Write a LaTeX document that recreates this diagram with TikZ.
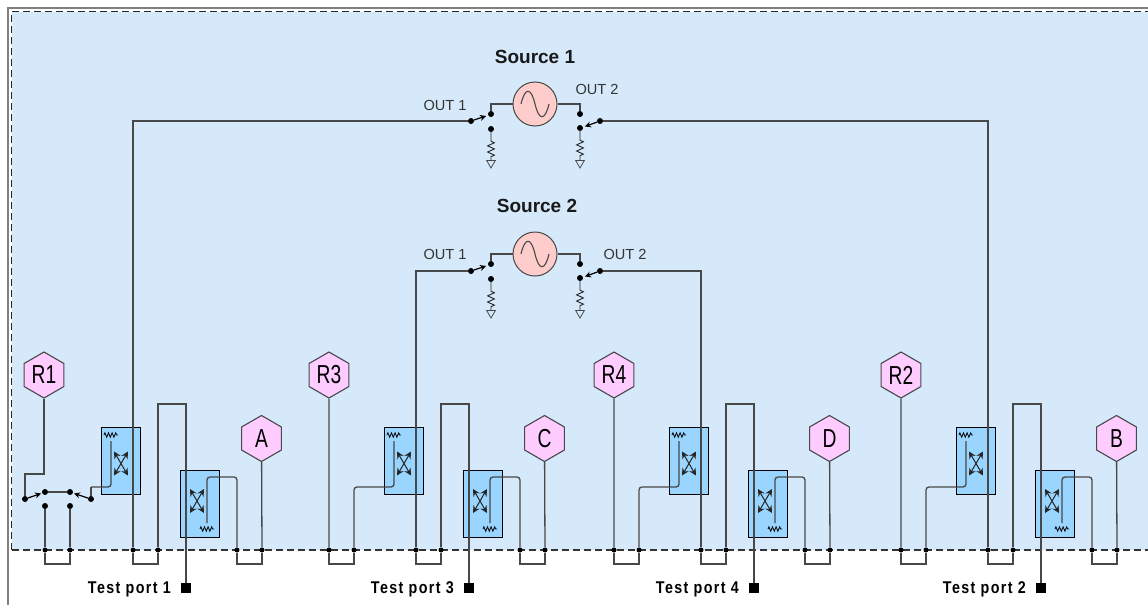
\documentclass[tikz,border=0pt]{standalone}
\usepackage{fontspec}
\usepackage{tikz}
\usetikzlibrary{arrows.meta,positioning,shapes.geometric,decorations.pathmorphing}
\setmainfont{Liberation Sans}
\newfontfamily\hexfont[FakeStretch=0.74]{Liberation Sans}
\newfontfamily\portfont[FakeStretch=0.84,LetterSpace=8]{Liberation Sans}
\definecolor{panelblue}{HTML}{D6E9FB}
\definecolor{couplerblue}{HTML}{99D5FF}
\definecolor{hexpink}{HTML}{FFCCFF}
\definecolor{srcpink}{HTML}{FFCCCC}
\definecolor{wiregray}{HTML}{484848}
\tikzstyle{hexport}=[draw=wiregray,fill=hexpink,line width=1.1pt,regular polygon,regular polygon sides=6,shape border rotate=30,minimum size=46pt,inner sep=0pt,font=\hexfont\fontsize{26}{26}\selectfont]
\tikzstyle{srcnode}=[draw=wiregray,fill=srcpink,line width=1pt,circle,minimum size=44pt,inner sep=0pt]
\tikzstyle{coupler}=[draw=black,fill=couplerblue,line width=1pt,minimum width=39pt,minimum height=67pt,inner sep=0pt]
\tikzstyle{jdot}=[circle,fill=black,minimum size=5pt,inner sep=0pt]
\tikzstyle{contact}=[circle,fill=black,minimum size=6pt,inner sep=0pt]
\tikzstyle{portsq}=[fill=black,minimum size=10.5pt,inner sep=0pt]
\tikzstyle{gnd}=[draw=wiregray,regular polygon,regular polygon sides=3,shape border rotate=180,minimum size=10pt,inner sep=0pt,line width=0.8pt]
\tikzstyle{wire}=[draw=wiregray,line width=1.3pt]
\tikzstyle{blade}=[draw=black,line width=1.2pt,-{Stealth[length=6pt,width=6pt]}]
\tikzstyle{resist}=[draw=black!85,line width=0.9pt,decorate,decoration={zigzag,amplitude=3.4pt,segment length=6.2pt,pre length=9pt,post length=2pt}]
\tikzstyle{tinyres}=[draw=black,line width=0.8pt,decorate,decoration={zigzag,amplitude=2.2pt,segment length=3.6pt}]
\tikzstyle{xarrow}=[draw=black!85,line width=1pt,{Stealth[length=7pt,width=7pt]}-{Stealth[length=7pt,width=7pt]}]
\tikzstyle{olabel}=[font=\fontsize{14.6}{15}\selectfont,text=black!80,inner sep=0pt]
\tikzstyle{srctitle}=[font=\bfseries\fontsize{19}{19}\selectfont,text=black!90,inner sep=0pt]
\tikzstyle{portlabel}=[font=\portfont\bfseries\fontsize{17}{17}\selectfont,inner sep=0pt,anchor=east]

\begin{document}
\begin{tikzpicture}[x=1pt,y=-1pt]
    \useasboundingbox (0,0) rectangle (1148,605);
    % panel and borders
    \fill[panelblue] (11,12) rectangle (1148,550);
    \draw[gray,line width=2pt] (8,605) -- (8,8) -- (1148,8);
    \draw[white,line width=1.2pt] (11.5,550) -- (11.5,11.5) -- (1148,11.5);
    \draw[black!85,line width=1.2pt,dash pattern=on 7pt off 4pt] (11.5,550) -- (11.5,11.5) -- (1148,11.5);
    \draw[black!80,line width=1.2pt,dash pattern=on 7pt off 4pt] (11.5,550) -- (1148,550);

    % what all four channels share
    \foreach \p/\m/\h in {1/133/A,3/416/C,4/701/D,2/988/B} {
      \node [coupler] (cpa\p) at (\m-12.5,460.5) {};
      \node [coupler] (cpb\p) at (\m+66.5,503.5) {};
      \node [jdot] (m\p) at (\m,550) {};
      \node [jdot] (n\p) at (\m+25,550) {};
      \node [jdot] (q\p) at (\m+104,550) {};
      \node [jdot] (s\p) at (\m+129,550) {};
      \node [portsq] (tp\p) at (\m+53,588) {};
      \node [hexport] (h\p) at (\m+128.5,438.5) {\h};
      \node [portlabel] at (\m+38,589) {Test port \p};
      % crossed arrows and loads
      \draw[xarrow] (\m-19,451.5) -- (\m-5,475.5);
      \draw[xarrow] (\m-5,451.5) -- (\m-19,475.5);
      \draw[xarrow] (\m+57,489) -- (\m+71,513);
      \draw[xarrow] (\m+71,489) -- (\m+57,513);
      \draw[tinyres] (\m-29,435) -- (\m-15,435);
      \draw[tinyres] (\m+67,529) -- (\m+81,529);
      % loops under the dashed line
      \draw[wire] (m\p) |- (\m+12,564) -| (n\p);
      \draw[wire] (q\p) |- (\m+116,564) -| (s\p);
      \draw[wire] (n\p) |- (\m+40,404) -| (tp\p);
      \draw[wire,rounded corners=3pt] (\m+74,523) |- (q\p |- 0,477) -- (q\p);
      \draw[wire] (s\p) -- (h\p);
    }

    % reference receivers R3, R4, R2
    \foreach \p/\r in {3/329,4/614,2/901} {
      \node [hexport] (r\p) at (\r,375) {R\p};
      \node [jdot] (u\p) at (\r,550) {};
      \node [jdot] (v\p) at (\r+25,550) {};
      \draw[wire] (r\p) -- (u\p);
      \draw[wire] (u\p) |- (\r+12,564) -| (v\p);
    }
    \draw[wire,rounded corners=3pt] (394,441) |- (v3 |- 0,487) -- (v3);
    \draw[wire,rounded corners=3pt] (679,441) |- (v4 |- 0,487) -- (v4);
    \draw[wire,rounded corners=3pt] (966,441) |- (v2 |- 0,487) -- (v2);

    % R1 goes through its own switch
    \node [hexport] (r1) at (44,375) {R1};
    \node [contact] (swa) at (25,499) {};
    \node [contact] (swb) at (45,492) {};
    \node [contact] (swc) at (70,492) {};
    \node [contact] (swd) at (91,499) {};
    \node [contact] (swe) at (45,506) {};
    \node [contact] (swf) at (70,506) {};
    \node [jdot] (u1) at (45,550) {};
    \node [jdot] (v1) at (70,550) {};
    \draw[wire] (r1) |- (25,474) -- (swa);
    \draw[blade] (swa) -- (41,493.5);
    \draw[blade] (swd) -- (74,493.5);
    \draw[wire] (swb) -- (swc);
    \draw[wire] (swe) -- (u1);
    \draw[wire] (swf) -- (v1);
    \draw[wire] (u1) |- (57,564) -| (v1);
    \draw[wire,rounded corners=3pt] (111,441) |- (91,487);
    \draw[wire] (91,487) -- (swd);

    % the two sources
    \foreach \s/\y in {1/0,2/150} {
      \node [srcnode] (src\s) at (535,\y+104) {};
      \draw[wiregray,line width=1.1pt] (521,\y+104) .. controls (525,\y+87) and (531,\y+87) .. (535,\y+104) .. controls (539,\y+121) and (545,\y+121) .. (549,\y+104);
      \node [contact] (lc\s) at (491,\y+114) {};
      \node [contact] (rc\s) at (580,\y+114) {};
      \node [contact] (lg\s) at (491,\y+129) {};
      \node [contact] (rg\s) at (580,\y+128) {};
      \node [contact] (lb\s) at (471,\y+121) {};
      \node [contact] (rb\s) at (600,\y+121) {};
      \node [gnd] (lgnd\s) at (491,\y+163) {};
      \node [gnd] (rgnd\s) at (580,\y+163) {};
      \draw[wire] (src\s.west) -| (lc\s);
      \draw[wire] (src\s.east) -| (rc\s);
      \draw[blade] (lb\s) -- (486,\y+116);
      \draw[blade] (rb\s) -- (585,\y+126.5);
      \draw[resist] (lg\s) -- (lgnd\s.north);
      \draw[resist] (rg\s) -- (rgnd\s.north);
    }
    \node [srctitle] at (535,57) {Source 1};
    \node [srctitle] at (537,206) {Source 2};
    \node [olabel] at (445,105) {OUT 1};
    \node [olabel] at (597,89) {OUT 2};
    \node [olabel] at (445,254) {OUT 1};
    \node [olabel] at (625,254) {OUT 2};

    % long runs down to the couplers
    \draw[wire] (lb1) -| (m1);
    \draw[wire] (rb1) -| (m2);
    \draw[wire] (lb2) -| (m3);
    \draw[wire] (rb2) -| (m4);
\end{tikzpicture}
\end{document}
